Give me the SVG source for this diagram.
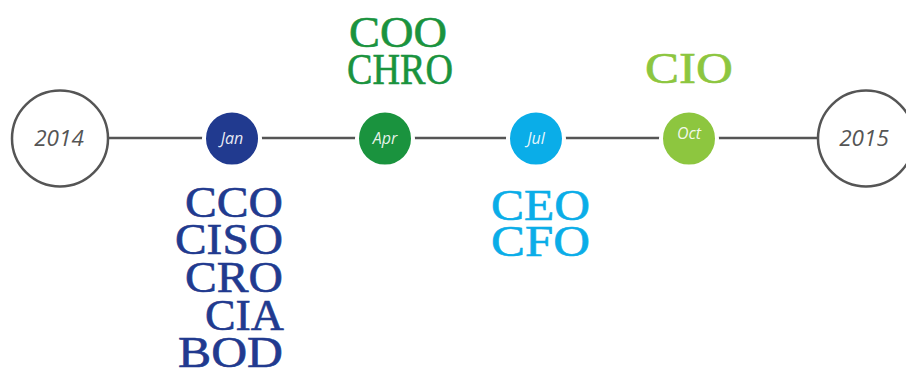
<svg xmlns="http://www.w3.org/2000/svg" width="906" height="371" viewBox="0 0 906 371">
<style>
.big{fill:#fff;stroke:#555;stroke-width:2.5}
.yr{font-family:"Open Sans","Liberation Sans",sans-serif;font-style:italic;font-size:22.5px;fill:#555;text-anchor:middle}
.mo{stroke:#fff;stroke-width:4}
.ml{font-family:"Open Sans","Liberation Sans",sans-serif;font-style:italic;font-size:16px;fill:#fff;fill-opacity:0.9;text-anchor:middle}
.role{font-family:"Liberation Serif",serif;font-size:44px;stroke-width:0.6}
.navy{fill:#213a8f;stroke:#213a8f}.green{fill:#1a933e;stroke:#1a933e}.cyan{fill:#0aade8;stroke:#0aade8}.lime{fill:#8dc63f;stroke:#8dc63f}
</style>
<g id="connectors">
<line x1="108" y1="138" x2="819" y2="138" stroke="#555" stroke-width="2.5"/>
</g>
<g id="y2014"><circle class="big" cx="60" cy="138.5" r="48"/><text class="yr" x="59" y="146">2014</text></g>
<g id="y2015"><circle class="big" cx="866" cy="138.5" r="48"/><text class="yr" x="864" y="146">2015</text></g>
<g id="jan"><circle class="mo" cx="232" cy="138.5" r="28" fill="#213a8f"/><text class="ml" x="232" y="144">Jan</text>
<text class="role navy" text-anchor="end" x="283" y="217" textLength="98" lengthAdjust="spacingAndGlyphs">CCO</text>
<text class="role navy" text-anchor="end" x="283" y="254" textLength="108" lengthAdjust="spacingAndGlyphs">CISO</text>
<text class="role navy" text-anchor="end" x="283" y="292" textLength="98" lengthAdjust="spacingAndGlyphs">CRO</text>
<text class="role navy" text-anchor="end" x="284" y="330" textLength="79" lengthAdjust="spacingAndGlyphs">CIA</text>
<text class="role navy" text-anchor="end" x="283" y="367" textLength="105" lengthAdjust="spacingAndGlyphs">BOD</text>
</g>
<g id="apr"><circle class="mo" cx="385" cy="138.5" r="28" fill="#1a933e"/><text class="ml" x="385" y="144">Apr</text>
<text class="role green" x="349" y="47" textLength="98" lengthAdjust="spacingAndGlyphs">COO</text>
<text class="role green" x="347" y="84" textLength="106" lengthAdjust="spacingAndGlyphs">CHRO</text>
</g>
<g id="jul"><circle class="mo" cx="536" cy="138.5" r="28" fill="#0aade8"/><text class="ml" x="536" y="144">Jul</text>
<text class="role cyan" x="491" y="220" textLength="99" lengthAdjust="spacingAndGlyphs">CEO</text>
<text class="role cyan" x="491" y="256" textLength="99" lengthAdjust="spacingAndGlyphs">CFO</text>
</g>
<g id="oct"><circle class="mo" cx="689" cy="138.5" r="28" fill="#8dc63f"/><text class="ml" x="689" y="139">Oct</text>
<text class="role lime" x="645" y="83" textLength="88" lengthAdjust="spacingAndGlyphs">CIO</text>
</g>
</svg>
